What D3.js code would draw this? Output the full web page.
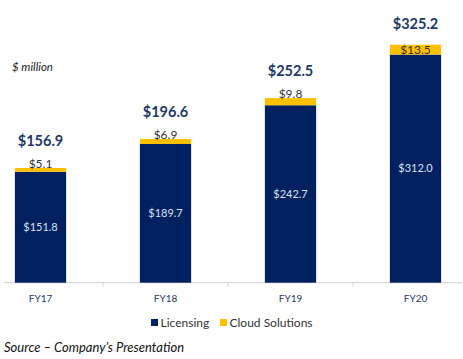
<!DOCTYPE html>
<html><head><meta charset="utf-8">
<script src="https://cdn.jsdelivr.net/npm/d3@7"></script>
<style>
html,body{margin:0;padding:0;background:#fff;}
svg{display:block;font-family:Lato,"Open Sans",sans-serif;}
</style></head>
<body><svg id="c" width="463" height="359"></svg>
<script>
const categories = ["FY17","FY18","FY19","FY20"];
const licensing = [151.8,189.7,242.7,312.0];
const cloud = [5.1,6.9,9.8,13.5];
const totals = [156.9,196.6,252.5,325.2];
const seriesNames = ["Licensing","Cloud Solutions"];
const colors = ["#002060","#FFC000"];

const svg = d3.select("#c");
const baseY = 282.7;
const x = d3.scaleBand().domain(categories).range([-22,478]).paddingInner(0.59).paddingOuter(0.295);
const y = d3.scaleLinear().domain([0,350]).range([baseY, baseY-255.9]);
const step = x.step(), bw = x.bandwidth();

const data = categories.map((c,i)=>({c, lic:licensing[i], cl:cloud[i], tot:totals[i]}));

// axis line and ticks
svg.append("line").attr("x1",4).attr("x2",462).attr("y1",baseY).attr("y2",baseY)
  .attr("stroke","#d0d0d0").attr("stroke-width",1);
categories.slice(1).forEach(c=>{
  const tx = x(c) - (step-bw)/2;
  svg.append("line").attr("x1",tx).attr("x2",tx).attr("y1",baseY).attr("y2",baseY+4)
    .attr("stroke","#d0d0d0");
});

// bars
svg.selectAll("rect.lic").data(data).join("rect").attr("class","lic")
  .attr("x",d=>x(d.c)).attr("width",bw)
  .attr("y",d=>y(d.lic)).attr("height",d=>y(0)-y(d.lic)).attr("fill",colors[0]);
svg.selectAll("rect.cl").data(data).join("rect").attr("class","cl")
  .attr("x",d=>x(d.c)).attr("width",bw)
  .attr("y",d=>y(d.lic+d.cl)).attr("height",d=>y(d.lic)-y(d.lic+d.cl)).attr("fill",colors[1]);

// licensing labels
svg.selectAll("text.lic").data(data).join("text").attr("class","lic")
  .attr("x",d=>x(d.c)+bw/2).attr("y",d=>(y(d.lic)+y(0))/2)
  .attr("dy","0.35em").attr("text-anchor","middle")
  .attr("fill","#dbe4f0").attr("font-size",11).text(d=>"$"+d.lic.toFixed(1));

// cloud labels
svg.selectAll("text.cl").data(data).join("text").attr("class","cl")
  .attr("x",d=>x(d.c)+bw/2)
  .attr("y",d=>{const top=y(d.lic+d.cl), bot=y(d.lic); return (bot-top)>=9 ? (top+bot)/2 : top-4;})
  .attr("dy","0.35em").attr("text-anchor","middle")
  .attr("fill","#333333").attr("font-size",12).text(d=>"$"+d.cl.toFixed(1));

// total labels
svg.selectAll("text.tot").data(data).join("text").attr("class","tot")
  .attr("x",d=>x(d.c)+bw/2).attr("y",d=>Math.max(y(d.tot)-27, 24))
  .attr("dy","0.35em").attr("text-anchor","middle")
  .attr("fill","#1F3864").attr("font-size",14.5).attr("font-weight","bold")
  .text(d=>"$"+d.tot.toFixed(1));

// category labels
svg.selectAll("text.cat").data(categories).join("text").attr("class","cat")
  .attr("x",c=>x(c)+bw/2).attr("y",298).attr("dy","0.35em").attr("text-anchor","middle")
  .attr("fill","#1F3864").attr("font-size",10).text(c=>c);

// $ million
svg.append("text").attr("x",12).attr("y",67).attr("dy","0.35em")
  .attr("font-size",11.5).attr("font-style","italic").attr("fill","#222").text("$ million");

// legend
const leg = svg.append("g");
const legItems = [{n:seriesNames[0],c:colors[0],x:151},{n:seriesNames[1],c:colors[1],x:220}];
legItems.forEach(it=>{
  leg.append("rect").attr("x",it.x).attr("y",319).attr("width",7).attr("height",7).attr("fill",it.c);
  leg.append("text").attr("x",it.x+9.5).attr("y",323).attr("dy","0.35em")
    .attr("font-size",12).attr("fill","#333").text(it.n);
});

// source
svg.append("text").attr("x",4).attr("y",347).attr("dy","0.35em")
  .attr("font-size",13).attr("font-style","italic").attr("fill","#111")
  .text("Source – Company’s Presentation");
</script></body></html>
